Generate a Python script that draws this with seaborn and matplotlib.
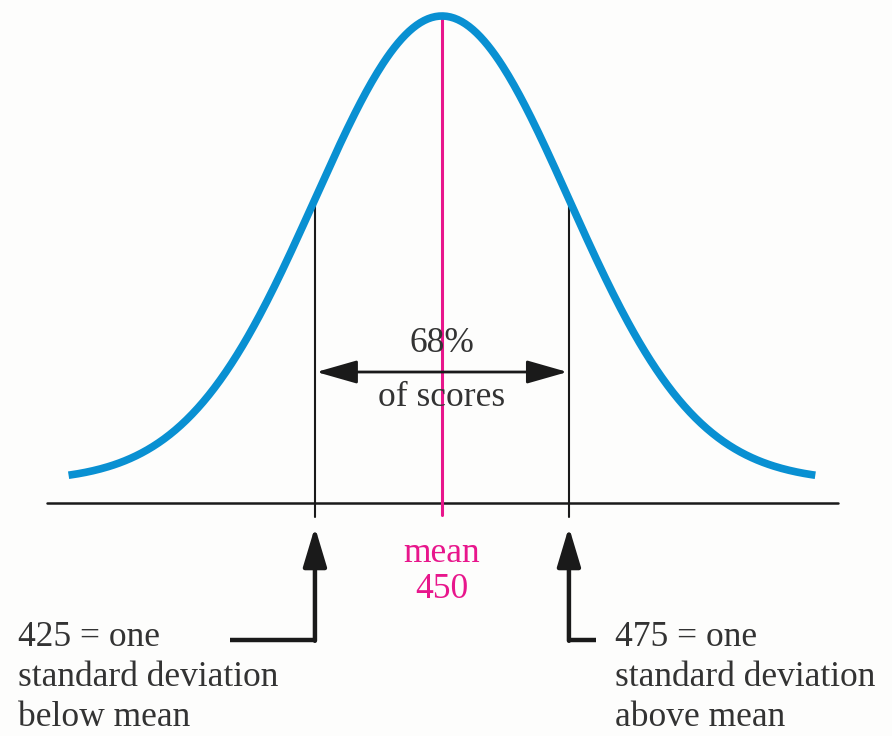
import matplotlib
matplotlib.use("Agg")
import matplotlib.pyplot as plt
import numpy as np
import pandas as pd
import seaborn as sns

# --- Chart values
mean_score = 450
sd_score = 25
sd_marks = [425, 475]
curve_span_sd = 2.94          # curve drawn to about +/- 2.94 SD
curve_peak = 487              # curve height at the mean (drawing units)
curve_floor = 21.6            # curve sits above the baseline
band_label = ["68%", "of scores"]
mean_label = ["mean", "450"]
left_note = ["425 = one", "standard deviation", "below mean"]
right_note = ["475 = one", "standard deviation", "above mean"]

blue = "#0990d2"
pink = "#e8168c"
ink = "#1a1a1a"
text_col = "#333333"

sns.set_theme(style="white")
plt.rcParams["font.family"] = ["Liberation Serif", "DejaVu Serif"]

# normal curve from mean / sd
x = np.linspace(mean_score - curve_span_sd * sd_score,
                mean_score + curve_span_sd * sd_score, 400)
z = (x - mean_score) / sd_score
curve = pd.DataFrame({
    "score": x,
    "height": curve_floor + (curve_peak - curve_floor) * np.exp(-z ** 2 / 2),
})


def curve_at(s):
    zz = (s - mean_score) / sd_score
    return curve_floor + (curve_peak - curve_floor) * np.exp(-zz ** 2 / 2)


fig = plt.figure(figsize=(8.92, 7.36), dpi=100, facecolor="#fdfdfc")
ax = fig.add_axes([0, 0, 1, 1])
ax.set_facecolor("#fdfdfc")

sns.lineplot(data=curve, x="score", y="height", ax=ax, color=blue,
             linewidth=5.5, solid_capstyle="butt", zorder=3)

# baseline
ax.plot([372.2, 528.0], [0, 0], color=ink, lw=1.8, zorder=2)

# mean line
ax.plot([mean_score, mean_score], [-12, curve_peak], color=pink, lw=2.2, zorder=2)

# one-SD lines
for s in sd_marks:
    ax.plot([s, s], [-14, curve_at(s)], color=ink, lw=1.5, zorder=2)

# 68% double arrow
ax.annotate("", xy=(sd_marks[0] + 0.3, 131), xytext=(sd_marks[1] - 0.3, 131),
            arrowprops=dict(arrowstyle="<|-|>,head_length=2.1,head_width=0.6",
                            color=ink, lw=2.0, shrinkA=0, shrinkB=0))
fs = 25.5
ax.text(mean_score, 160, band_label[0], ha="center", va="center",
        fontsize=fs, color=text_col)
ax.text(mean_score, 105, band_label[1], ha="center", va="center",
        fontsize=fs, color=text_col)

# mean label
ax.text(mean_score, -50, mean_label[0], ha="center", va="center",
        fontsize=fs, color=pink)
ax.text(mean_score, -87, mean_label[1], ha="center", va="center",
        fontsize=fs, color=pink)

# elbow arrows pointing up at the SD marks
elbow_y = -137
for s, x_end in [(sd_marks[0], 408.3), (sd_marks[1], 480.3)]:
    ax.plot([x_end, s], [elbow_y, elbow_y], color=ink, lw=3.2,
            solid_capstyle="butt", zorder=2)
    ax.annotate("", xy=(s, -24), xytext=(s, elbow_y - 0.8),
                arrowprops=dict(arrowstyle="-|>,head_length=2.0,head_width=0.6",
                                color=ink, lw=3.2, shrinkA=0, shrinkB=0))

# side notes
line_y = [-134, -174, -214]
for txt, yy in zip(left_note, line_y):
    ax.text(366.5, yy, txt, ha="left", va="center", fontsize=fs, color=text_col)
for txt, yy in zip(right_note, line_y):
    ax.text(484.1, yy, txt, ha="left", va="center", fontsize=fs, color=text_col)

ax.set_xlim(363.0, 538.6)
ax.set_ylim(-233, 503)
ax.axis("off")

fig.savefig("out.png", dpi=100, facecolor=fig.get_facecolor())
